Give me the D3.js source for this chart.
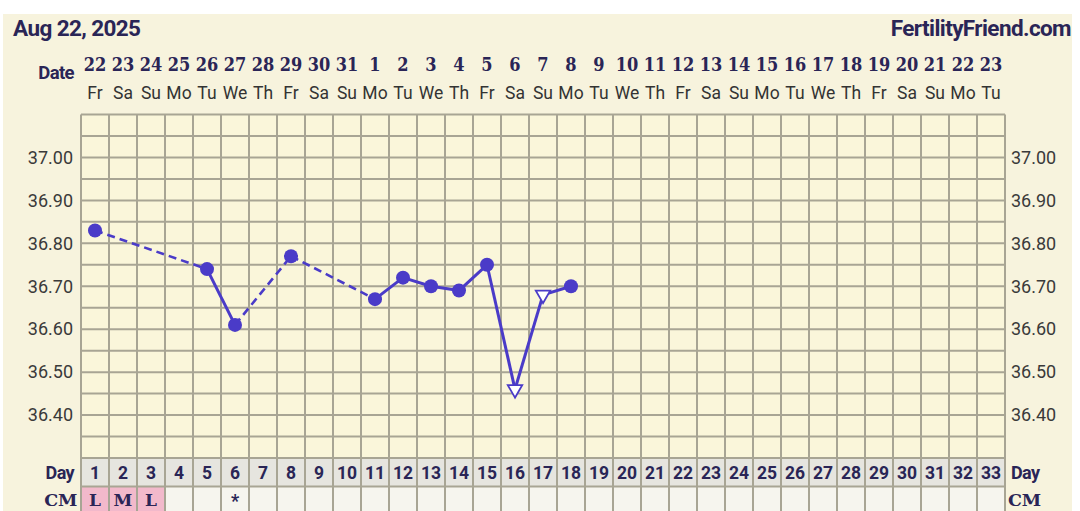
<!DOCTYPE html>
<html><head><meta charset="utf-8">
<script src="https://cdn.jsdelivr.net/npm/d3@7"></script>
<style>
html,body{margin:0;padding:0;background:#fff;}
svg{display:block;}
</style></head>
<body>
<div id="chart"></div>
<script>
// ---- data ----
const title = "Aug 22, 2025";
const site = "FertilityFriend.com";
const dates = ["22","23","24","25","26","27","28","29","30","31","1","2","3","4","5","6","7","8","9","10","11","12","13","14","15","16","17","18","19","20","21","22","23"];
const weekdays = ["Fr","Sa","Su","Mo","Tu","We","Th","Fr","Sa","Su","Mo","Tu","We","Th","Fr","Sa","Su","Mo","Tu","We","Th","Fr","Sa","Su","Mo","Tu","We","Th","Fr","Sa","Su","Mo","Tu"];
const cycleDays = d3.range(1, 34);
const tempDays = [1, 5, 6, 8, 11, 12, 13, 14, 15, 16, 17, 18];
const temps =    [36.83, 36.74, 36.61, 36.77, 36.67, 36.72, 36.70, 36.69, 36.75, 36.46, 36.68, 36.70];
const markers =  ["dot","dot","dot","dot","dot","dot","dot","dot","dot","open","open","dot"];
const cm = ["L","M","L","","","*","","","","","","","","","","","","","","","","","","","","","","","","","","",""];
const cmPink = [true,true,true];
const yTicks = [36.40, 36.50, 36.60, 36.70, 36.80, 36.90, 37.00];
const yGrid = d3.range(0, 17).map(i => +(36.30 + i * 0.05).toFixed(2));

// ---- layout ----
const W = 1080, H = 511;
const L = 81, R = 1005, T = 114.5, B = 458;
const dayRowH = 28.5;
const ink = "#2a2556";
const purple = "#4a3bc8";
const gridC = "#a8a594";

const svg = d3.select("#chart").append("svg").attr("width", W).attr("height", H);

svg.append("rect").attr("x", 3).attr("y", 14).attr("width", 1069).attr("height", H - 14).attr("fill", "#f7f3dd");

const x = d3.scaleBand().domain(cycleDays).range([L, R]).padding(0);
const y = d3.scaleLinear().domain([36.30, 37.10]).range([B, T]);
const cx = d => x(d) + x.bandwidth() / 2;

// plot background
svg.append("rect").attr("x", L).attr("y", T).attr("width", R - L).attr("height", B - T).attr("fill", "#faf6da");
// day row
svg.append("rect").attr("x", L).attr("y", B).attr("width", R - L).attr("height", dayRowH).attr("fill", "#e6e5df");
// cm row
svg.append("rect").attr("x", L).attr("y", B + dayRowH).attr("width", R - L).attr("height", H - B - dayRowH).attr("fill", "#f6f5ee");
svg.selectAll("rect.pink").data(cycleDays.filter((d, i) => cmPink[i])).enter().append("rect")
  .attr("class", "pink").attr("x", d => x(d)).attr("y", B + dayRowH).attr("width", x.bandwidth()).attr("height", H - B - dayRowH)
  .attr("fill", "#f2b9cb");

// grid
const g = svg.append("g").attr("stroke", gridC).attr("stroke-width", 2);
g.selectAll("line.h").data(yGrid).enter().append("line")
  .attr("x1", L).attr("x2", R).attr("y1", d => y(d)).attr("y2", d => y(d));
g.append("line").attr("x1", L).attr("x2", R).attr("y1", B + dayRowH).attr("y2", B + dayRowH);
g.selectAll("line.v").data(cycleDays.concat([34])).enter().append("line")
  .attr("x1", d => d === 34 ? R : x(d)).attr("x2", d => d === 34 ? R : x(d))
  .attr("y1", T).attr("y2", H);

// header
svg.append("text").attr("x", 13).attr("y", 36).attr("font-family", "Roboto").attr("font-weight", 700)
  .attr("font-size", 22.5).attr("letter-spacing", -0.6).attr("fill", ink).text(title);
svg.append("text").attr("x", 1071).attr("y", 36).attr("text-anchor", "end").attr("font-family", "Roboto").attr("font-weight", 700)
  .attr("font-size", 22.5).attr("letter-spacing", -0.6).attr("fill", ink).text(site);

// date rows
svg.append("text").attr("x", 74).attr("y", 78.5).attr("text-anchor", "end").attr("font-family", "Roboto").attr("font-weight", 700)
  .attr("font-size", 18.5).attr("letter-spacing", -0.6).attr("fill", ink).text("Date");
svg.selectAll("text.date").data(cycleDays).enter().append("text")
  .attr("x", cx).attr("y", 71).attr("text-anchor", "middle")
  .attr("font-family", "DejaVu Serif").attr("font-stretch", "condensed").attr("font-weight", 700).attr("font-size", 18)
  .attr("fill", ink).text((d, i) => dates[i]);
svg.selectAll("text.wd").data(cycleDays).enter().append("text")
  .attr("x", cx).attr("y", 98.5).attr("text-anchor", "middle")
  .attr("font-family", "Roboto").attr("font-size", 17.5).attr("fill", "#333").text((d, i) => weekdays[i]);

// y axes
const axL = d3.axisLeft(y).tickValues(yTicks).tickSize(0).tickPadding(7).tickFormat(d3.format(".2f"));
const axR = d3.axisRight(y).tickValues(yTicks).tickSize(0).tickPadding(6).tickFormat(d3.format(".2f"));
const gl = svg.append("g").attr("transform", `translate(${L - 1},0)`).call(axL);
const gr = svg.append("g").attr("transform", `translate(${R},0)`).call(axR);
[gl, gr].forEach(a => {
  a.select(".domain").remove();
  a.selectAll("text").attr("font-family", "Roboto").attr("font-size", 18).attr("fill", "#3a3a3a");
});

// day row labels
svg.append("text").attr("x", 74).attr("y", B + 21).attr("text-anchor", "end").attr("font-family", "Roboto").attr("font-weight", 700)
  .attr("font-size", 18).attr("letter-spacing", -0.6).attr("fill", ink).text("Day");
svg.append("text").attr("x", 1011).attr("y", B + 21).attr("font-family", "Roboto").attr("font-weight", 700)
  .attr("font-size", 18).attr("letter-spacing", -0.6).attr("fill", ink).text("Day");
svg.selectAll("text.day").data(cycleDays).enter().append("text")
  .attr("x", cx).attr("y", B + 21).attr("text-anchor", "middle")
  .attr("font-family", "Roboto").attr("font-weight", 700).attr("font-size", 17.5).attr("fill", ink).text(d => d);

// CM row
svg.append("text").attr("x", 77).attr("y", B + dayRowH + 19.5).attr("text-anchor", "end").attr("font-family", "DejaVu Serif").attr("font-weight", 700)
  .attr("font-size", 17.5).attr("letter-spacing", -0.3).attr("fill", ink).text("CM");
svg.append("text").attr("x", 1008).attr("y", B + dayRowH + 19.5).attr("font-family", "DejaVu Serif").attr("font-weight", 700)
  .attr("font-size", 17.5).attr("letter-spacing", -0.3).attr("fill", ink).text("CM");
svg.selectAll("text.cm").data(cycleDays.filter((d, i) => cm[i] !== "")).enter().append("text")
  .attr("x", cx).attr("y", d => B + dayRowH + (cm[d - 1] === "*" ? 20 : 19.5)).attr("text-anchor", "middle")
  .attr("font-family", d => cm[d - 1] === "*" ? "Roboto" : "DejaVu Serif").attr("font-weight", 700)
  .attr("font-size", d => cm[d - 1] === "*" ? 18 : 17)
  .attr("fill", ink).text(d => cm[d - 1]);

// temperature lines
const pts = tempDays.map((d, i) => ({ day: d, t: temps[i], m: markers[i] }));
const segs = d3.pairs(pts);
svg.append("g").selectAll("line").data(segs).enter().append("line")
  .attr("x1", s => cx(s[0].day)).attr("y1", s => y(s[0].t))
  .attr("x2", s => cx(s[1].day)).attr("y2", s => y(s[1].t))
  .attr("stroke", purple)
  .attr("stroke-width", s => s[1].day - s[0].day === 1 ? 3 : 2.6)
  .attr("stroke-dasharray", s => s[1].day - s[0].day === 1 ? null : "8,5");

// markers
svg.append("g").selectAll("circle").data(pts.filter(p => p.m === "dot")).enter().append("circle")
  .attr("cx", p => cx(p.day)).attr("cy", p => y(p.t)).attr("r", 7).attr("fill", purple);
const tri = d3.symbol().type(d3.symbolTriangle).size(90);
svg.append("g").selectAll("path").data(pts.filter(p => p.m === "open")).enter().append("path")
  .attr("d", tri).attr("transform", p => `translate(${cx(p.day)},${y(p.t)}) rotate(180)`)
  .attr("fill", "#ffffff").attr("stroke", purple).attr("stroke-width", 1.8);
</script>
</body></html>
